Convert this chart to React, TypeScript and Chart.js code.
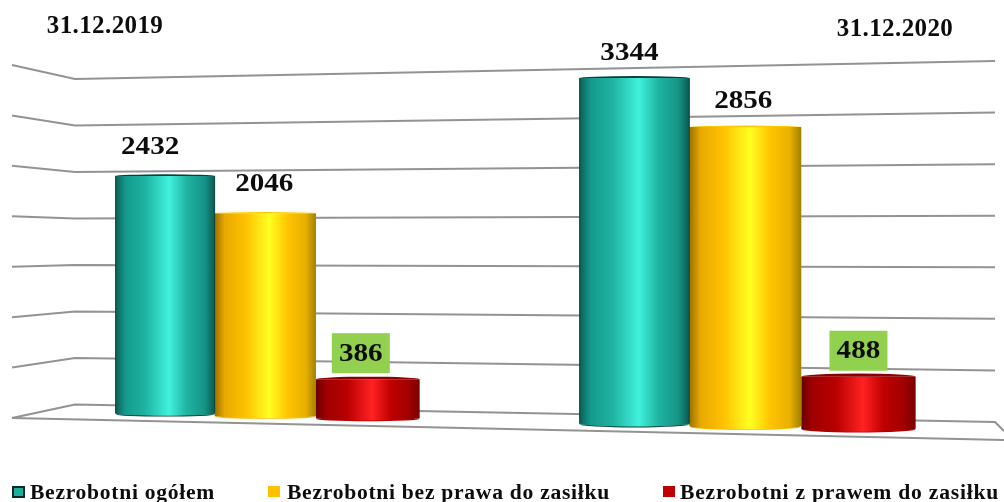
import React, { useEffect, useRef } from "react";
import { Chart, registerables } from "chart.js";

Chart.register(...registerables);

const categories = ["31.12.2019", "31.12.2020"];
const seriesNames = [
  "Bezrobotni ogółem",
  "Bezrobotni bez prawa do zasiłku",
  "Bezrobotni z prawem do zasiłku",
];
const ogolem = [2432, 3344];
const bezPrawa = [2046, 2856];
const zPrawem = [386, 488];
const yTicks = [0, 500, 1000, 1500, 2000, 2500, 3000, 3500];

const FONT = '"Liberation Serif", serif';
const GRID = "#939393";

// pseudo-3D view: maps the flat scale coordinates on to the perspective picture
const projX = (x: number) => {
  const u = x - 507;
  return 499 + u * (1 + 1.04e-4 * u);
};
const floorY = (x: number) => 413.5 + (x - 165) * 0.0216;
const depthK = (x: number) => 0.9687 + (x - 165) * 1.19e-4;

const STYLES = [
  {
    stops: ["#0c5f58", "#149a8c", "#1fb3a2", "#40f2dc", "#1fb3a2", "#149486", "#0d5a52"],
    cap: "#0a3f3a",
    bottom: "#0a3f3a",
    outline: "#0a3f3a",
    capRy: 0.7,
  },
  {
    stops: ["#9a7000", "#e8aa00", "#ffc000", "#ffff22", "#ffc400", "#e8b000", "#a08000"],
    cap: "#ffc800",
    bottom: "#ffc000",
    outline: null,
    capRy: 0.5,
  },
  {
    stops: ["#6a0000", "#a00000", "#b80000", "#ff2222", "#c00000", "#a00000", "#7a0000"],
    cap: "#8e0000",
    bottom: "#b00000",
    outline: null,
    capRy: 1,
  },
];
const STOP_AT = [0, 0.1, 0.3, 0.54, 0.72, 0.9, 1];

const LABEL_STYLE = [
  { dx: [-15, -5], rise: [30, 26] },
  { dx: [-1, -2], rise: [30, 27] },
  { dx: [-7, 0], rise: [26, 26] },
];

const LEGEND_LAYOUT = [
  { box: 12, text: 30, width: 185 },
  { box: 268, text: 287, width: 323 },
  { box: 663, text: 680, width: 319 },
];

const stretched = (ctx: any, text: string, x: number, y: number, sx: number) => {
  ctx.save();
  ctx.translate(x, y);
  ctx.scale(sx, 1);
  ctx.fillText(text, 0, 0);
  ctx.restore();
};

const perspective = {
  id: "perspective",
  beforeDatasetsDraw(chart: any) {
    const { ctx } = chart;
    const y = chart.scales.y;
    const top = y.getPixelForValue(3500);
    const bottom = y.getPixelForValue(0);
    ctx.save();
    ctx.strokeStyle = GRID;
    ctx.lineWidth = 2;
    ctx.lineJoin = "round";
    yTicks.forEach((t) => {
      const f = (bottom - y.getPixelForValue(t)) / (bottom - top);
      ctx.beginPath();
      ctx.moveTo(12, 418 - 353 * f);
      ctx.lineTo(75, 404.5 - 325.5 * f);
      ctx.lineTo(995, 422 - 361 * f);
      if (t === 0) ctx.lineTo(1004, 431);
      ctx.stroke();
    });
    ctx.beginPath();
    ctx.moveTo(12, 418);
    ctx.lineTo(1004, 440);
    ctx.stroke();
    ctx.restore();
  },
  beforeDatasetDraw(chart: any, args: any) {
    const { ctx } = chart;
    const st = STYLES[args.index];
    args.meta.data.forEach((el: any) => {
      const xl = projX(el.x - el.width / 2);
      const xr = projX(el.x + el.width / 2);
      const cx = (xl + xr) / 2;
      const rx = (xr - xl) / 2;
      const fy = floorY(cx);
      const ty = fy - (el.base - el.y) * depthK(cx);
      const ry = 2 + (cx / 1004) * 1.5;
      const g = ctx.createLinearGradient(xl, 0, xr, 0);
      st.stops.forEach((c, i) => g.addColorStop(STOP_AT[i], c));
      ctx.save();
      // lower rim
      ctx.fillStyle = st.bottom;
      ctx.beginPath();
      ctx.ellipse(cx, fy + 0.8, rx, ry, 0, 0, Math.PI);
      ctx.fill();
      // side of the cylinder
      ctx.fillStyle = g;
      ctx.beginPath();
      ctx.moveTo(xl, ty);
      ctx.lineTo(xr, ty);
      ctx.lineTo(xr, fy);
      ctx.ellipse(cx, fy, rx, ry, 0, 0, Math.PI);
      ctx.closePath();
      ctx.fill();
      // cap
      ctx.fillStyle = st.cap;
      ctx.beginPath();
      ctx.ellipse(cx, ty, rx, ry * st.capRy, 0, Math.PI, 2 * Math.PI);
      ctx.fill();
      if (st.outline) {
        ctx.strokeStyle = st.outline;
        ctx.lineWidth = 1;
        ctx.beginPath();
        ctx.moveTo(xl, ty);
        ctx.lineTo(xl, fy);
        ctx.moveTo(xr, ty);
        ctx.lineTo(xr, fy);
        ctx.stroke();
      }
      ctx.restore();
    });
    return false;
  },
  afterDatasetsDraw(chart: any) {
    const { ctx } = chart;
    ctx.save();
    ctx.textAlign = "center";
    ctx.textBaseline = "middle";
    chart.data.datasets.forEach((ds: any, di: number) => {
      chart.getDatasetMeta(di).data.forEach((el: any, i: number) => {
        const xl = projX(el.x - el.width / 2);
        const xr = projX(el.x + el.width / 2);
        const cx = (xl + xr) / 2;
        const ty = floorY(cx) - (el.base - el.y) * depthK(cx);
        const lx = cx + LABEL_STYLE[di].dx[i];
        const ly = ty - LABEL_STYLE[di].rise[i];
        if (di === 2) {
          ctx.fillStyle = "#92d050";
          ctx.fillRect(lx - 29, ly - 20, 58, 40);
        }
        ctx.fillStyle = "#0c0c0c";
        ctx.font = `bold 26px ${FONT}`;
        stretched(ctx, String(ds.data[i]), lx, ly + 1, 1.12);
      });
    });
    // dates above the groups
    ctx.font = `bold 25px ${FONT}`;
    (ctx as any).letterSpacing = "0.4px";
    ctx.fillText(categories[0], 105, 27);
    ctx.fillText(categories[1], 895, 30);
    // legend
    ctx.textAlign = "left";
    ctx.textBaseline = "alphabetic";
    ctx.font = `bold 20px ${FONT}`;
    const sx = 1.08;
    seriesNames.forEach((name, i) => {
      const l = LEGEND_LAYOUT[i];
      (ctx as any).letterSpacing = "0px";
      const w = ctx.measureText(name).width * sx;
      (ctx as any).letterSpacing = `${(l.width - w) / sx / name.length}px`;
      if (i === 0) {
        ctx.fillStyle = "#1fae9e";
        ctx.strokeStyle = "#0a2a28";
        ctx.lineWidth = 2;
        ctx.fillRect(l.box + 1, 487, 11, 10);
        ctx.strokeRect(l.box + 1, 487, 11, 10);
      } else {
        ctx.fillStyle = i === 1 ? "#ffc000" : "#c00000";
        ctx.fillRect(l.box, 486, 12, 11);
      }
      ctx.fillStyle = "#0c0c0c";
      stretched(ctx, name, l.text, 499, sx);
    });
    ctx.restore();
  },
};

export default function App() {
  const ref = useRef<HTMLCanvasElement>(null);
  useEffect(() => {
    document.body.style.margin = "0";
    const chart = new Chart(ref.current!, {
      type: "bar",
      data: {
        labels: categories,
        datasets: [ogolem, bezPrawa, zPrawem].map((data, i) => ({
          label: seriesNames[i],
          data,
          backgroundColor: STYLES[i].cap,
          categoryPercentage: 2 / 3,
          barPercentage: 1,
        })),
      },
      options: {
        responsive: false,
        animation: false,
        layout: { padding: { left: 27, right: 17, top: 65, bottom: 84 } },
        plugins: { legend: { display: false }, tooltip: { enabled: false } },
        scales: {
          x: { display: false },
          y: { display: false, min: 0, max: 3500, ticks: { stepSize: 500 } },
        },
      },
      plugins: [perspective],
    });
    return () => chart.destroy();
  }, []);
  return (
    <div style={{ width: 1004, height: 502, background: "#fff" }}>
      <canvas ref={ref} width={1004} height={502} style={{ display: "block" }} />
    </div>
  );
}
